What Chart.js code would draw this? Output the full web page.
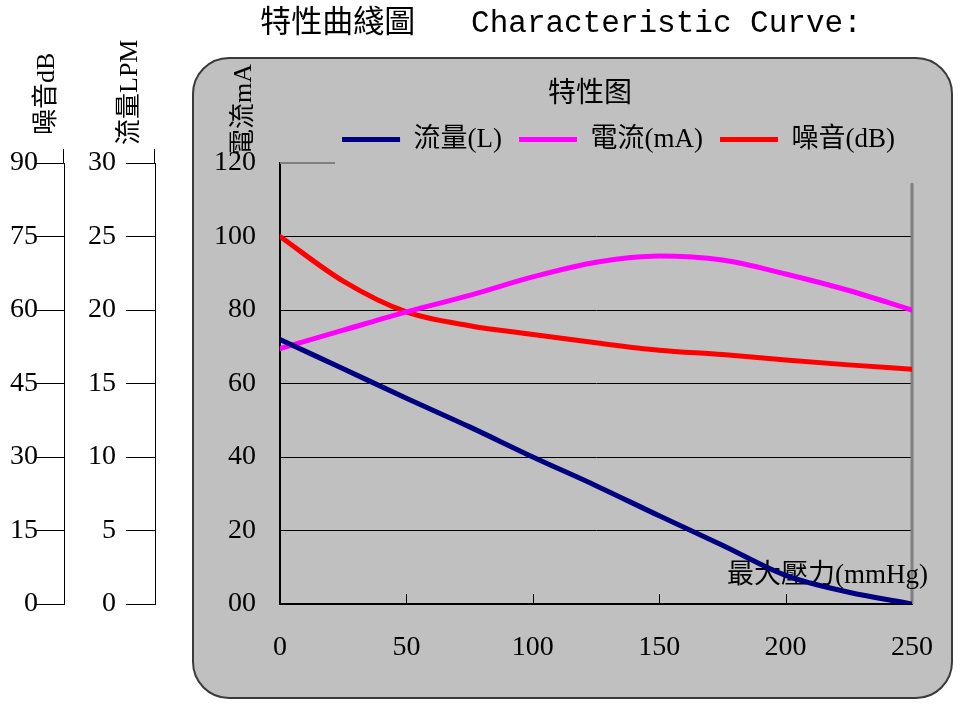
<!DOCTYPE html>
<html>
<head>
<meta charset="utf-8">
<title>特性曲綫圖</title>
<script src="https://cdn.jsdelivr.net/npm/chart.js@4.4.0/dist/chart.umd.min.js"></script>
<style>
  html, body { margin: 0; padding: 0; background: #ffffff; }
  #wrap { width: 965px; height: 710px; }
</style>
</head>
<body>
<div id="wrap"><canvas id="curve"></canvas></div>
<script>
/* ---- data ---- */
const pressure  = [0, 25, 50, 75, 100, 125, 150, 175, 200, 225, 250];          // mmHg
const flowLPM   = [18.0, 16.0, 14.0, 12.05, 10.0, 8.05, 6.0, 4.0, 1.95, 0.8, 0];
const currentMA = [69.5, 74.5, 79.5, 84.0, 89.0, 93.0, 94.7, 93.6, 89.8, 85.3, 80.0];
const noiseDB   = [75.0, 65.9, 59.6, 56.8, 55.0, 53.3, 51.8, 50.9, 49.8, 48.8, 47.9];

const seriesNames = ['流量(L)', '電流(mA)', '噪音(dB)'];
const seriesColors = ['#000080', '#ff00ff', '#ff0000'];

const chartTitle  = '特性曲綫圖   Characteristic Curve:';
const legendTitle = '特性图';
const xTitle      = '最大壓力(mmHg)';
const noiseTitle  = '噪音dB';
const flowTitle   = '流量LPM';
const curTitle    = '電流mA';

const SERIF = "'Liberation Serif', 'Noto Sans CJK TC', serif";
const MONO  = "'Liberation Mono', 'Noto Sans CJK TC', monospace";

Chart.defaults.font.family = SERIF;
Chart.defaults.font.size = 26;
Chart.defaults.color = '#000';

function points(values) {
    return pressure.map((p, i) => ({ x: p, y: values[i] }));
}

function roundBox(ctx, x, y, w, h, r) {
    ctx.beginPath();
    ctx.moveTo(x + r, y);
    ctx.lineTo(x + w - r, y);
    ctx.arcTo(x + w, y, x + w, y + r, r);
    ctx.lineTo(x + w, y + h - r);
    ctx.arcTo(x + w, y + h, x + w - r, y + h, r);
    ctx.lineTo(x + r, y + h);
    ctx.arcTo(x, y + h, x, y + h - r, r);
    ctx.lineTo(x, y + r);
    ctx.arcTo(x, y, x + r, y, r);
    ctx.closePath();
}

function vText(ctx, text, x, y) {
    ctx.save();
    ctx.translate(x, y);
    ctx.rotate(-Math.PI / 2);
    ctx.textAlign = 'left';
    ctx.textBaseline = 'middle';
    ctx.fillText(text, 0, 0);
    ctx.restore();
}

/* ---- frame, titles and small decorations ---- */
const framePlugin = {
    id: 'frame',
    beforeDraw(chart) {
        const { ctx, chartArea, scales } = chart;
        const left = scales.yCur.left + 38;
        const right = chartArea.right + 40;
        const top = chartArea.top - 105;
        const bottom = chart.height - 12;
        ctx.save();
        ctx.fillStyle = '#ffffff';
        ctx.fillRect(0, 0, chart.width, chart.height);
        roundBox(ctx, left, top, right - left, bottom - top, 36);
        ctx.fillStyle = '#c0c0c0';
        ctx.fill();
        ctx.lineWidth = 2;
        ctx.strokeStyle = '#3a3a3a';
        ctx.stroke();
        ctx.restore();
    },
    beforeDatasetsDraw(chart) {
        const { ctx, chartArea, scales } = chart;
        const x = scales.x;
        ctx.save();

        // short grey stub at the top of the value axis
        ctx.strokeStyle = '#808080';
        ctx.lineWidth = 2;
        ctx.beginPath();
        ctx.moveTo(chartArea.left, chartArea.top);
        ctx.lineTo(chartArea.left + 55, chartArea.top);
        ctx.stroke();

        // right border
        ctx.lineWidth = 3;
        ctx.beginPath();
        ctx.moveTo(chartArea.right, chartArea.top + 20);
        ctx.lineTo(chartArea.right, chartArea.bottom);
        ctx.stroke();

        // inner tick marks on the pressure axis
        ctx.strokeStyle = '#000';
        ctx.lineWidth = 1;
        x.ticks.forEach(t => {
            if (t.value <= x.min || t.value >= x.max) return;
            const px = Math.round(x.getPixelForValue(t.value)) + 0.5;
            ctx.beginPath();
            ctx.moveTo(px, chartArea.bottom);
            ctx.lineTo(px, chartArea.bottom - 10);
            ctx.stroke();
        });

        // left axes run a little above the top tick
        [scales.yNoise, scales.yFlow].forEach(s => {
            ctx.beginPath();
            ctx.moveTo(s.right - 0.5, chartArea.top - 14);
            ctx.lineTo(s.right - 0.5, chartArea.top);
            ctx.stroke();
        });

        // texts
        ctx.fillStyle = '#000';
        ctx.font = '27px ' + SERIF;
        ctx.textAlign = 'right';
        ctx.textBaseline = 'middle';
        ctx.fillText(xTitle, chartArea.right + 16, chartArea.bottom - 28);

        ctx.font = '26px ' + SERIF;
        vText(ctx, noiseTitle, scales.yNoise.right - 17, chartArea.top - 28);
        vText(ctx, flowTitle, scales.yFlow.right - 25, chartArea.top - 18);
        vText(ctx, curTitle, chartArea.left - 36, chartArea.top - 8);

        ctx.textAlign = 'center';
        ctx.font = '28px ' + SERIF;
        ctx.fillText(legendTitle, chartArea.left + 310, chartArea.top - 68);

        ctx.font = '31px ' + MONO;
        ctx.fillText(chartTitle, chartArea.left + 281, 24);
        ctx.restore();
    }
};

const sideAxis = (min, max, step, width, weight, padding) => ({
    type: 'linear',
    position: 'left',
    weight: weight,
    min: min,
    max: max,
    ticks: { stepSize: step, padding: padding, font: { size: 28 }, color: '#000' },
    grid: { drawOnChartArea: false, drawTicks: true, tickLength: 29, color: '#000', lineWidth: 1 },
    border: { display: true, color: '#000', width: 1 },
    afterFit(scale) { scale.width = width; }
});

new Chart(document.getElementById('curve'), {
    type: 'line',
    data: {
        datasets: [
            { label: seriesNames[0], data: points(flowLPM), yAxisID: 'yFlow' },
            { label: seriesNames[1], data: points(currentMA), yAxisID: 'yCur' },
            { label: seriesNames[2], data: points(noiseDB), yAxisID: 'yNoise' }
        ].map((d, i) => Object.assign(d, {
            borderColor: seriesColors[i],
            backgroundColor: seriesColors[i],
            borderWidth: 5,
            borderCapStyle: 'round',
            pointRadius: 0,
            cubicInterpolationMode: 'monotone',
            fill: false
        }))
    },
    options: {
        responsive: true,
        maintainAspectRatio: false,
        animation: false,
        layout: { padding: { left: 0, right: 53, top: 109, bottom: 42 } },
        plugins: {
            legend: {
                position: 'top',
                align: 'end',
                labels: {
                    usePointStyle: true,
                    pointStyleWidth: 58,
                    pointStyle: 'line',
                    padding: 17,
                    color: '#000',
                    font: { size: 27 }
                }
            },
            tooltip: { enabled: false }
        },
        scales: {
            x: {
                type: 'linear',
                min: 0,
                max: 250,
                ticks: { stepSize: 50, padding: 27, font: { size: 28 }, color: '#000' },
                grid: { drawOnChartArea: false, drawTicks: false },
                border: { display: true, color: '#000', width: 2 },
                afterFit(scale) { scale.height = 64; }
            },
            yNoise: sideAxis(0, 90, 15, 64, 3, -3),
            yFlow: sideAxis(0, 30, 5, 91, 2, 10),
            yCur: {
                type: 'linear',
                position: 'left',
                weight: 1,
                min: 0,
                max: 120,
                ticks: {
                    stepSize: 20,
                    padding: 24,
                    font: { size: 28 },
                    color: '#000',
                    callback: v => (v === 0 ? '00' : v)
                },
                grid: {
                    drawTicks: false,
                    lineWidth: 1,
                    color: c => (c.tick && c.tick.value === 120 ? 'rgba(0,0,0,0)' : '#000')
                },
                border: { display: true, color: '#000', width: 2 },
                afterFit(scale) { scale.width = 125; }
            }
        }
    },
    plugins: [framePlugin]
});
</script>
</body>
</html>
